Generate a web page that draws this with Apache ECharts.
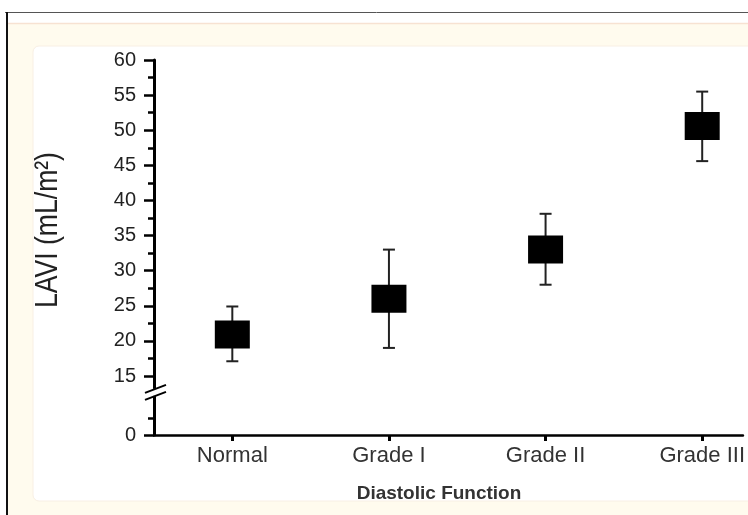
<!DOCTYPE html>
<html>
<head>
<meta charset="utf-8">
<script src="https://cdn.jsdelivr.net/npm/echarts@6/dist/echarts.min.js"></script>
<style>
  html, body { margin: 0; padding: 0; background: #fff; }
  #main { width: 748px; height: 515px; }
</style>
</head>
<body>
<div id="main"></div>
<script>
// categories and values
var categories = ['Normal', 'Grade I', 'Grade II', 'Grade III'];
var means = [20.9, 26.0, 33.0, 50.6];
var lows = [17.1, 19.0, 28.0, 45.6];
var highs = [24.9, 33.0, 38.1, 55.5];

// y axis: broken below 15, the "0" sits at the bottom of the axis
var yMajor = [15, 20, 25, 30, 35, 40, 45, 50, 55, 60];
var yMinor = [9, 17.5, 22.5, 27.5, 32.5, 37.5, 42.5, 47.5, 52.5, 57.5];
var yBottom = 6.6;
var yTop = 60;
var breakAt = 12.6;

// the original plot is cut at the right edge, so x runs a bit short of the last band
var xMin = -0.5;
var xMax = 3.26;

var chart = echarts.init(document.getElementById('main'));

var seriesData = categories.map(function (c, i) {
  return [i, means[i], lows[i], highs[i]];
});
var catIdx = categories.map(function (c, i) { return i; });

var option = {
  animation: false,
  grid: { left: 154, top: 60, right: 0, height: 375 },
  xAxis: {
    type: 'value',
    min: xMin,
    max: xMax,
    axisLine: { show: true, onZero: false, lineStyle: { color: '#000', width: 2.5 } },
    axisTick: { show: true, length: 6, customValues: catIdx, lineStyle: { color: '#000', width: 3 } },
    axisLabel: {
      customValues: catIdx,
      margin: 10,
      color: '#333',
      fontSize: 22,
      fontFamily: 'Liberation Sans',
      formatter: function (v) { return categories[Math.round(v)] || ''; }
    },
    splitLine: { show: false }
  },
  yAxis: [{
    type: 'value',
    min: yBottom,
    max: yTop,
    axisLine: { show: true, onZero: false, lineStyle: { color: '#000', width: 3 } },
    axisTick: { show: true, length: 10, customValues: [yBottom].concat(yMajor), lineStyle: { color: '#000', width: 2.5 } },
    axisLabel: {
      customValues: [yBottom].concat(yMajor),
      margin: 18,
      color: '#222',
      fontSize: 20,
      fontFamily: 'Liberation Sans',
      formatter: function (v) { return v < 10 ? '0' : String(v); }
    },
    splitLine: { show: false }
  }, {
    type: 'value',
    min: yBottom,
    max: yTop,
    position: 'left',
    axisLine: { show: false, onZero: false },
    axisTick: { show: true, length: 6, customValues: yMinor, lineStyle: { color: '#000', width: 2.5 } },
    axisLabel: { show: false },
    splitLine: { show: false }
  }],
  series: [{
    type: 'custom',
    data: seriesData,
    clip: false,
    encode: { x: 0, y: [1, 2, 3] },
    renderItem: function (params, api) {
      var c = api.coord([api.value(0), api.value(1)]);
      var lo = api.coord([api.value(0), api.value(2)]);
      var hi = api.coord([api.value(0), api.value(3)]);
      var st = { stroke: '#222', lineWidth: 2 };
      return {
        type: 'group',
        children: [
          { type: 'line', shape: { x1: c[0], y1: hi[1], x2: c[0], y2: lo[1] }, style: st },
          { type: 'line', shape: { x1: c[0] - 6, y1: hi[1], x2: c[0] + 6, y2: hi[1] }, style: st },
          { type: 'line', shape: { x1: c[0] - 6, y1: lo[1], x2: c[0] + 6, y2: lo[1] }, style: st },
          { type: 'rect', shape: { x: c[0] - 17.5, y: c[1] - 14, width: 35, height: 28 }, style: { fill: '#000' } }
        ]
      };
    }
  }],
  graphic: [
    { type: 'rect', id: 'cream', z: -10, shape: { x: 8, y: 23, width: 760, height: 500 }, style: { fill: '#fffbee' } },
    { type: 'line', id: 'peach', z: -9, shape: { x1: 8, y1: 23.5, x2: 748, y2: 23.5 }, style: { stroke: '#f7e2d2', lineWidth: 1.5 } },
    { type: 'rect', id: 'panel', z: -8, shape: { x: 33, y: 46, width: 740, height: 455, r: 6 }, style: { fill: '#fff', stroke: '#f8efe4', lineWidth: 1 } },
    { type: 'line', id: 'topline', z: -7, shape: { x1: 5, y1: 12.5, x2: 748, y2: 12.5 }, style: { stroke: '#555', lineWidth: 1 } },
    { type: 'line', id: 'leftline', z: -7, shape: { x1: 7, y1: 12, x2: 7, y2: 515 }, style: { stroke: '#111', lineWidth: 2 } },
    {
      type: 'text', id: 'yname', x: 48.5, y: 230, rotation: Math.PI / 2, scaleX: 0.83,
      style: { text: 'LAVI (mL/m²)', fill: '#222', fontSize: 32, fontFamily: 'Liberation Sans', align: 'center', verticalAlign: 'middle' }
    },
    {
      type: 'text', id: 'xname', x: 439, y: 494,
      style: { text: 'Diastolic Function', fill: '#333', fontSize: 19, fontWeight: 'bold', fontFamily: 'Liberation Sans', align: 'center', verticalAlign: 'middle' }
    }
  ]
};

chart.setOption(option);

// axis break mark "//"
var yb = chart.convertToPixel({ yAxisIndex: 0 }, breakAt);
var ax = 154;
chart.setOption({
  graphic: [
    { type: 'rect', id: 'gap', z: 50, shape: { x: ax - 3, y: yb - 4, width: 6, height: 7 }, style: { fill: '#fff' } },
    { type: 'line', id: 'slash1', z: 51, shape: { x1: ax - 9, y1: yb, x2: ax + 12, y2: yb - 8 }, style: { stroke: '#000', lineWidth: 2 } },
    { type: 'line', id: 'slash2', z: 51, shape: { x1: ax - 9, y1: yb + 7, x2: ax + 12, y2: yb - 1 }, style: { stroke: '#000', lineWidth: 2 } }
  ]
});
</script>
</body>
</html>
